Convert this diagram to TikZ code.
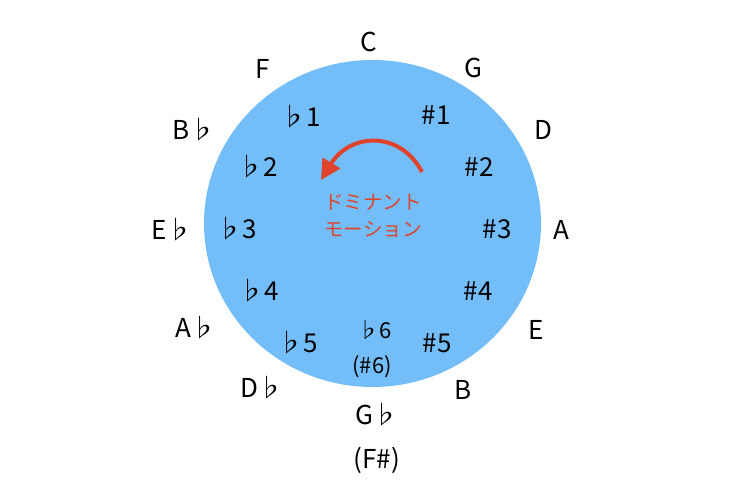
\documentclass[tikz,border=0pt]{standalone}
\usepackage{fontspec}
\setmainfont{Noto Sans CJK JP}
\usetikzlibrary{arrows.meta}
\definecolor{circblue}{RGB}{115,190,248}
\definecolor{motred}{RGB}{224,66,44}
\tikzset{
  key/.style={font=\fontsize{26}{30}\selectfont, inner sep=0pt, anchor=center},
  small/.style={font=\fontsize{22}{26}\selectfont, inner sep=0pt, anchor=center},
  jp/.style={font=\fontsize{19.5}{22}\selectfont, text=motred, inner sep=0pt, anchor=center},
}
\begin{document}
\begin{tikzpicture}[x=1pt,y=-1pt]
\useasboundingbox (0,0) rectangle (755,482);
\fill[white] (0,0) rectangle (755,482);
\fill[circblue] (372.5,223.5) ellipse [x radius=168.5, y radius=163.5];
% outer keys
\node[key] (C) at (369,42) {C};
\node[key] (G) at (473,68) {G};
\node[key] (D) at (543,130) {D};
\node[key] (A) at (561,230) {A};
\node[key] (E) at (536,330) {E};
\node[key] (B) at (463,390) {B};
\node[key] (Gb) at (377,415) {G♭};
\node[key] (Fs) at (377,460) {(F\#)};
\node[key] (Db) at (262,388) {D♭};
\node[key] (Ab) at (196,328) {A♭};
\node[key] (Eb) at (172,230) {E♭};
\node[key] (Bb) at (194,130) {B♭};
\node[key] (F) at (263,69) {F};
% inner
\node[key] (f1) at (301,117) {♭1};
\node[key] (s1) at (436,115) {\#1};
\node[key] (f2) at (258,167) {♭2};
\node[key] (s2) at (479,167) {\#2};
\node[key] (f3) at (237,229) {♭3};
\node[key] (s3) at (497,229) {\#3};
\node[key] (f4) at (259,291) {♭4};
\node[key] (s4) at (478,291) {\#4};
\node[key] (f5) at (298,343) {♭5};
\node[key] (s5) at (437,343) {\#5};
\node[small] (f6) at (375,330) {♭6};
\node[small] (s6) at (372,367) {(\#6)};
% dominant motion
\node[jp] (t1) at (373,202) {ドミナント};
\node[jp] (t2) at (373,230) {モーション};
\coordinate (as) at (422,172);
\coordinate (ae) at (321,180);
\draw[motred, line width=4pt, -{Triangle[length=20pt,width=20pt]}]
  (as) .. controls (400,130) and (350,133) .. (ae);
\end{tikzpicture}
\end{document}
